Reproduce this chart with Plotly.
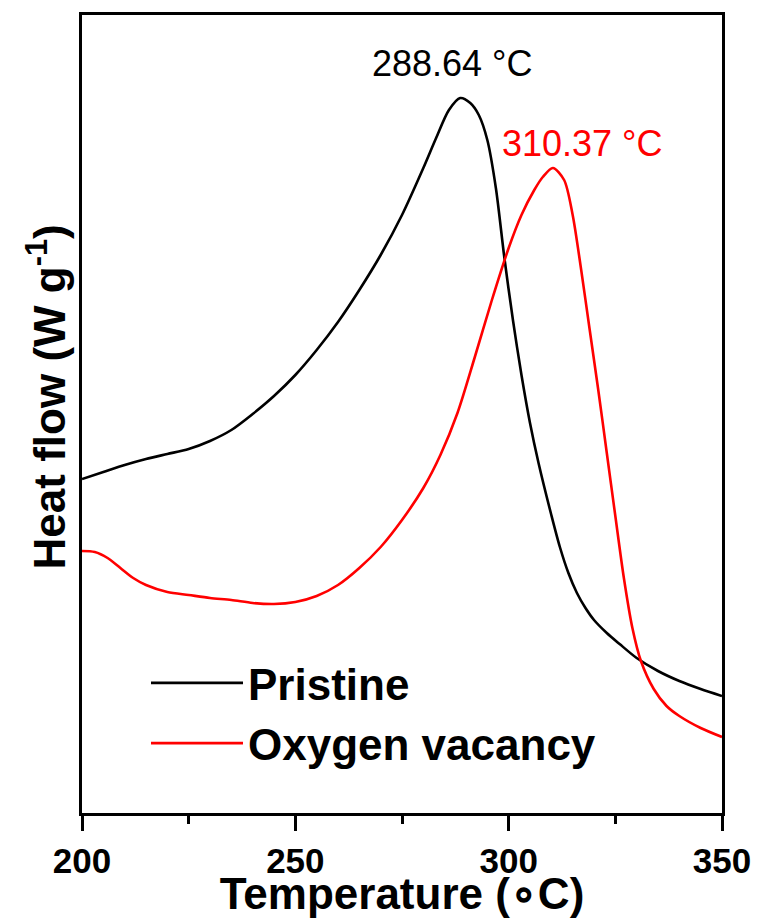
import plotly.graph_objects as go

# DSC heat-flow curves (arbitrary units, exo up)
temp_pristine = [200, 205, 210, 215, 220, 225, 230, 235, 240, 245, 250, 255, 260, 265,
                 270, 275, 280, 283, 286, 288.64, 291, 293, 295, 297, 299, 301, 303,
                 305, 307, 310, 312, 314, 316, 318, 320, 323, 326, 330, 335, 340, 345, 350]
flow_pristine = [3.34, 3.41, 3.48, 3.54, 3.59, 3.64, 3.72, 3.83, 3.99, 4.17, 4.38, 4.63, 4.91, 5.23,
                 5.58, 5.98, 6.45, 6.75, 7.03, 7.15, 7.10, 6.98, 6.73, 6.25, 5.55, 4.93, 4.38,
                 3.90, 3.50, 2.98, 2.66, 2.40, 2.20, 2.05, 1.93, 1.80, 1.69, 1.55, 1.42, 1.32, 1.24, 1.17]

temp_vacancy = [200, 203, 206, 209, 212, 215, 220, 225, 230, 235, 240, 245, 250, 255, 260,
                265, 270, 275, 280, 284, 288, 292, 296, 300, 303, 306, 308, 310.37, 313,
                315, 317, 319, 321, 323, 325, 327, 329, 331, 334, 337, 340, 345, 350]
flow_vacancy = [2.62, 2.61, 2.55, 2.45, 2.35, 2.28, 2.21, 2.18, 2.15, 2.13, 2.10, 2.09, 2.11, 2.17, 2.28,
                2.45, 2.66, 2.93, 3.25, 3.58, 4.00, 4.55, 5.12, 5.65, 5.98, 6.23, 6.36, 6.45, 6.33,
                5.98, 5.43, 4.83, 4.23, 3.60, 2.97, 2.35, 1.85, 1.52, 1.24, 1.07, 0.97, 0.85, 0.76]

series_names = ["Pristine", "Oxygen vacancy"]
series_colors = ["#000000", "#ff0000"]
peak_temps = [288.64, 310.37]
peak_flows = [7.15, 6.45]
peak_label_dx = [-8, 30]
peak_label_dy = [12, 2]

x_ticks = [200, 250, 300, 350]
x_minor_ticks = [225, 275, 325]

FONT = "Liberation Sans, Arial, sans-serif"

fig = go.Figure()
for t, f, name, col in zip([temp_pristine, temp_vacancy], [flow_pristine, flow_vacancy],
                           series_names, series_colors):
    fig.add_trace(go.Scatter(x=t, y=f, mode="lines", name=name,
                             line=dict(color=col, width=2.6, shape="spline", smoothing=0.8)))

# peak temperature labels
for t, f, col, dx, dy in zip(peak_temps, peak_flows, series_colors, peak_label_dx, peak_label_dy):
    fig.add_annotation(x=t, y=f, text=f"{t:.2f} °C", showarrow=False,
                       yanchor="bottom", yshift=dy, xshift=dx,
                       font=dict(family=FONT, size=36, color=col))

# vertical axis title
fig.add_annotation(xref="paper", yref="paper", x=-0.056, y=0.521,
                   text="Heat flow (W g<sup>-1</sup>)", textangle=-90, showarrow=False,
                   xanchor="center", yanchor="middle",
                   font=dict(family=FONT, size=44, weight="bold", color="black"))

fig.update_layout(
    width=759, height=918,
    margin=dict(l=82, r=37, t=15, b=105, autoexpand=False),
    paper_bgcolor="white", plot_bgcolor="white",
    font=dict(family=FONT, color="black"),
    showlegend=True,
    legend=dict(x=0.1, y=0.207, xanchor="left", yanchor="top",
                bgcolor="rgba(0,0,0,0)", itemwidth=92, tracegroupgap=0,
                font=dict(family=FONT, size=44, color="black", weight="bold")),
)

fig.update_xaxes(
    range=[200, 350], tickvals=x_ticks, ticks="outside", ticklen=15, tickwidth=3,
    tickcolor="black", showline=True, linewidth=3, linecolor="black", mirror=True,
    showgrid=False, zeroline=False, automargin=False,
    tickfont=dict(family=FONT, size=35, weight="bold"),
    minor=dict(tickvals=x_minor_ticks, ticks="outside", ticklen=8, tickwidth=3, tickcolor="black"),
    title=dict(text="Temperature (∘C)", standoff=2,
               font=dict(family=FONT, size=44, weight="bold")),
)
fig.update_yaxes(
    range=[0, 7.98], showticklabels=False, ticks="", showline=True, linewidth=3,
    linecolor="black", mirror=True, showgrid=False, zeroline=False, automargin=False,
)

fig.write_html("out.html")
